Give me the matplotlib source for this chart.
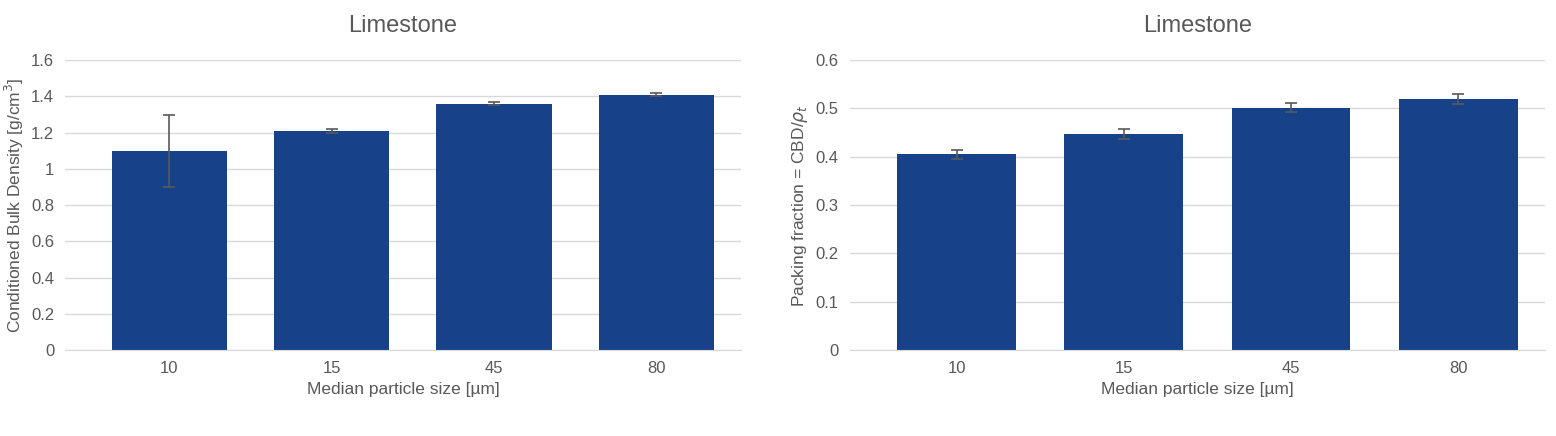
import numpy as np
from matplotlib import pyplot as plt

plt.rcParams['font.family'] = ['Liberation Sans', 'DejaVu Sans']

# datos
sizes = ['10', '15', '45', '80']
cbd = [1.10, 1.21, 1.36, 1.41]
cbd_err = [0.20, 0.01, 0.01, 0.01]
pf = [0.405, 0.447, 0.502, 0.520]
pf_err = [0.010, 0.010, 0.010, 0.010]

bar_color = '#17428a'
grid_color = '#d9d9d9'
txt_color = '#595959'

fig = plt.figure(figsize=(15.56, 4.36), dpi=100)
ax1 = fig.add_axes([0.042, 0.197, 0.434, 0.665])
ax2 = fig.add_axes([0.546, 0.197, 0.447, 0.665])


def panel(ax, vals, errs, ylim, step, ylabel, fmt):
    x = np.arange(len(sizes))
    ax.bar(x, vals, width=0.71, color=bar_color, zorder=2)
    ax.errorbar(x, vals, yerr=errs, fmt='none', ecolor='#595959', elinewidth=1.2,
                capsize=4, capthick=1.2, zorder=3)
    ax.set_xlim(-0.64, 3.52)
    ax.set_ylim(0, ylim)
    ticks = np.arange(0, ylim + step / 2, step)
    ax.set_yticks(ticks)
    ax.set_yticklabels([fmt(t) for t in ticks])
    ax.set_xticks(x)
    ax.set_xticklabels(sizes)
    ax.grid(axis='y', color=grid_color, linewidth=1, zorder=0)
    for s in ['top', 'right', 'left']:
        ax.spines[s].set_visible(False)
    ax.spines['bottom'].set_color(grid_color)
    ax.tick_params(length=0, labelsize=12, colors=txt_color, pad=8)
    ax.set_title('Limestone', fontsize=17, color=txt_color, pad=20)
    ax.set_xlabel('Median particle size [µm]', fontsize=12.5, color=txt_color)
    ax.set_ylabel(ylabel, fontsize=12.5, color=txt_color)


panel(ax1, cbd, cbd_err, 1.6, 0.2, 'Conditioned Bulk Density [g/cm$^3$]',
      lambda t: ('%g' % round(t, 1)))
panel(ax2, pf, pf_err, 0.6, 0.1, r'Packing fraction = CBD/$\rho_t$',
      lambda t: ('%g' % round(t, 1)))

fig.savefig('out.png', dpi=100)
